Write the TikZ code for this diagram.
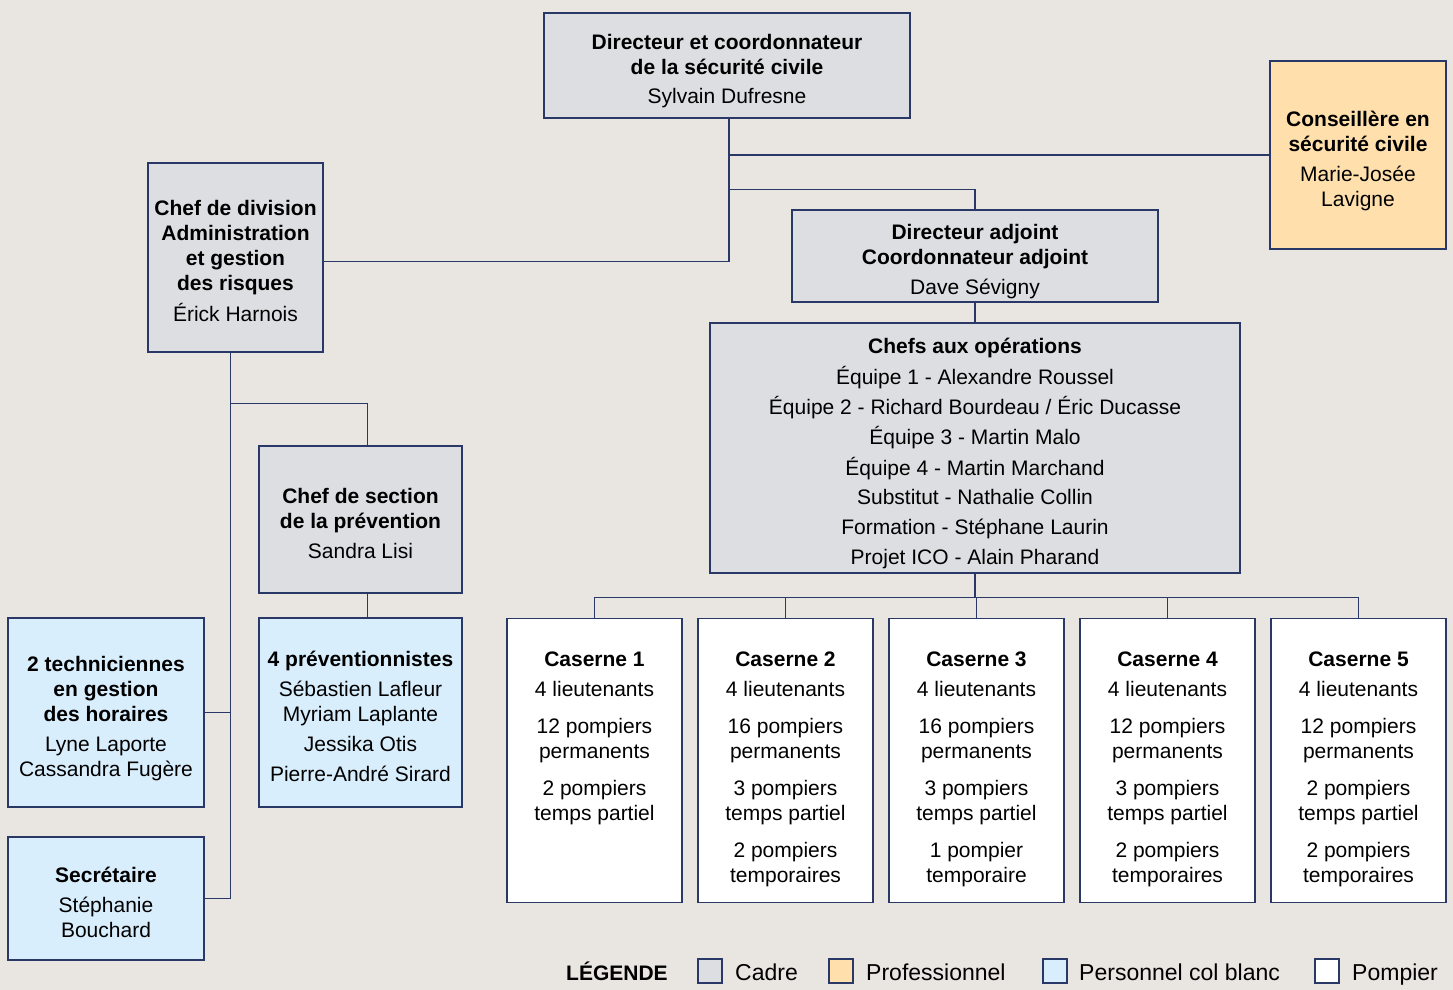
\documentclass[tikz,border=0pt]{standalone}
\usepackage{fontspec}
\setmainfont{Liberation Sans}
\usetikzlibrary{positioning}

\definecolor{fond}{HTML}{E9E5E1}
\definecolor{trait}{HTML}{2A3868}
\definecolor{gris}{HTML}{DDDEE1}
\definecolor{peche}{HTML}{FFE0AD}
\definecolor{bleuclair}{HTML}{D9EEFC}

\tikzset{
  boite/.style={draw=trait, line width=1.3pt, inner sep=0pt},
  cadre/.style={boite, fill=gris},
  pro/.style={boite, fill=peche},
  colblanc/.style={boite, fill=bleuclair},
  pompier/.style={boite, fill=white, minimum width=175pt, minimum height=284pt, anchor=north},
  lien/.style={draw=trait, line width=1.3pt},
  legtexte/.style={anchor=base west, inner sep=0pt, font=\fontsize{23}{27}\selectfont},
}

\newcommand{\poste}[1]{\raisebox{-6pt}[\height][\depth]{\begin{tabular}{@{}c@{}}#1\end{tabular}}}
\newcommand{\caserne}[1]{\parbox[c][284pt][t]{175pt}{\centering\vspace*{33pt}#1}}

\begin{document}
\begin{tikzpicture}[x=1pt, y=-1pt, font=\fontsize{21}{25}\selectfont]
\fill[fond] (0,0) rectangle (1453,990);
\useasboundingbox (0,0) rectangle (1453,990);

% direction
\node[cadre, minimum width=366pt, minimum height=105pt] (dir) at (727,65.5)
  {\poste{\textbf{Directeur et coordonnateur}\\ \textbf{de la sécurité civile}\\[5pt] Sylvain Dufresne}};
\node[pro, minimum width=176pt, minimum height=188pt] (cons) at (1358,155)
  {\poste{\textbf{Conseillère en}\\ \textbf{sécurité civile}\\[5pt] Marie-Josée\\ Lavigne}};
\node[cadre, minimum width=175pt, minimum height=189pt] (chefdiv) at (235.5,257.5)
  {\poste{\textbf{Chef de division}\\ \textbf{Administration}\\ \textbf{et gestion}\\ \textbf{des risques}\\[5pt] Érick Harnois}};
\node[cadre, minimum width=366pt, minimum height=92pt] (adj) at (975,256)
  {\poste{\textbf{Directeur adjoint}\\ \textbf{Coordonnateur adjoint}\\[5pt] Dave Sévigny}};
\node[cadre, minimum width=530pt, minimum height=250pt] (ops) at (975,448)
  {\poste{\textbf{Chefs aux opérations}\\[4.7pt] Équipe 1 - Alexandre Roussel\\[4.7pt]
   Équipe 2 - Richard Bourdeau / Éric Ducasse\\[4.7pt] Équipe 3 - Martin Malo\\[4.7pt]
   Équipe 4 - Martin Marchand\\[4.7pt] Substitut - Nathalie Collin\\[4.7pt]
   Formation - Stéphane Laurin\\[4.7pt] Projet ICO - Alain Pharand}};

% administration
\node[cadre, minimum width=203pt, minimum height=147pt] (section) at (360.5,519.5)
  {\poste{\textbf{Chef de section}\\ \textbf{de la prévention}\\[5pt] Sandra Lisi}};
\node[colblanc, minimum width=196pt, minimum height=189pt] (techn) at (106,712.5)
  {\poste{\textbf{2 techniciennes}\\ \textbf{en gestion}\\ \textbf{des horaires}\\[5pt] Lyne Laporte\\ Cassandra Fugère}};
\node[colblanc, minimum width=203pt, minimum height=189pt] (prev) at (360.5,712.5)
  {\poste{\textbf{4 préventionnistes}\\[5pt] Sébastien Lafleur\\ Myriam Laplante\\[5pt] Jessika Otis\\[5pt] Pierre-André Sirard}};
\node[colblanc, minimum width=196pt, minimum height=123pt] (secr) at (106,898.5)
  {\poste{\textbf{Secrétaire}\\[5pt] Stéphanie\\ Bouchard}};

% casernes
\node[pompier] (cas1) at (594.5,618)
  {\caserne{\textbf{Caserne 1}\\[5pt] 4 lieutenants\\[12pt] 12 pompiers\\ permanents\\[12pt] 2 pompiers\\ temps partiel}};
\node[pompier, right=14.7pt of cas1] (cas2)
  {\caserne{\textbf{Caserne 2}\\[5pt] 4 lieutenants\\[12pt] 16 pompiers\\ permanents\\[12pt] 3 pompiers\\ temps partiel\\[12pt] 2 pompiers\\ temporaires}};
\node[pompier, right=14.7pt of cas2] (cas3)
  {\caserne{\textbf{Caserne 3}\\[5pt] 4 lieutenants\\[12pt] 16 pompiers\\ permanents\\[12pt] 3 pompiers\\ temps partiel\\[12pt] 1 pompier\\ temporaire}};
\node[pompier, right=14.7pt of cas3] (cas4)
  {\caserne{\textbf{Caserne 4}\\[5pt] 4 lieutenants\\[12pt] 12 pompiers\\ permanents\\[12pt] 3 pompiers\\ temps partiel\\[12pt] 2 pompiers\\ temporaires}};
\node[pompier, right=14.7pt of cas4] (cas5)
  {\caserne{\textbf{Caserne 5}\\[5pt] 4 lieutenants\\[12pt] 12 pompiers\\ permanents\\[12pt] 2 pompiers\\ temps partiel\\[12pt] 2 pompiers\\ temporaires}};

% liens
\draw[lien] ([xshift=2pt]dir.south) |- ([yshift=-4pt]chefdiv.east);
\draw[lien] ([xshift=2pt]dir.south |- cons.west) -- (cons.west);
\draw[lien] (adj.north) -- ++(0,-20) -| ([xshift=2pt]dir.south);
\draw[lien] (adj) -- (ops);
\draw[lien] (ops.south) -- ++(0,24) coordinate (bus);
\foreach \i in {1,...,5}
  \draw[lien] (cas\i.north) |- (bus);

\draw[lien] ([xshift=-5pt]chefdiv.south) coordinate (dos) -- (dos |- secr.east) -- (secr.east);
\draw[lien] (techn.east) -- (techn.east -| dos);
\draw[lien] ([xshift=7pt]section.north) -- ++(0,-42) -| (dos);
\draw[lien] ([xshift=7pt]section.south) -- ([xshift=7pt]prev.north);

% legende
\node[legtexte, font=\fontsize{21}{25}\bfseries] (legende) at (566,980) {LÉGENDE};
\node[boite, fill=gris, minimum size=24pt] (lcadre) at (710,971) {};
\node[legtexte] (tcadre) at (735,980) {Cadre};
\node[boite, fill=peche, minimum size=24pt] (lpro) at (841,971) {};
\node[legtexte] (tpro) at (866,980) {Professionnel};
\node[boite, fill=bleuclair, minimum size=24pt] (lcol) at (1055,971) {};
\node[legtexte] (tcol) at (1079,980) {Personnel col blanc};
\node[boite, fill=white, minimum size=24pt] (lpomp) at (1327,971) {};
\node[legtexte] (tpomp) at (1352,980) {Pompier};
\end{tikzpicture}
\end{document}
